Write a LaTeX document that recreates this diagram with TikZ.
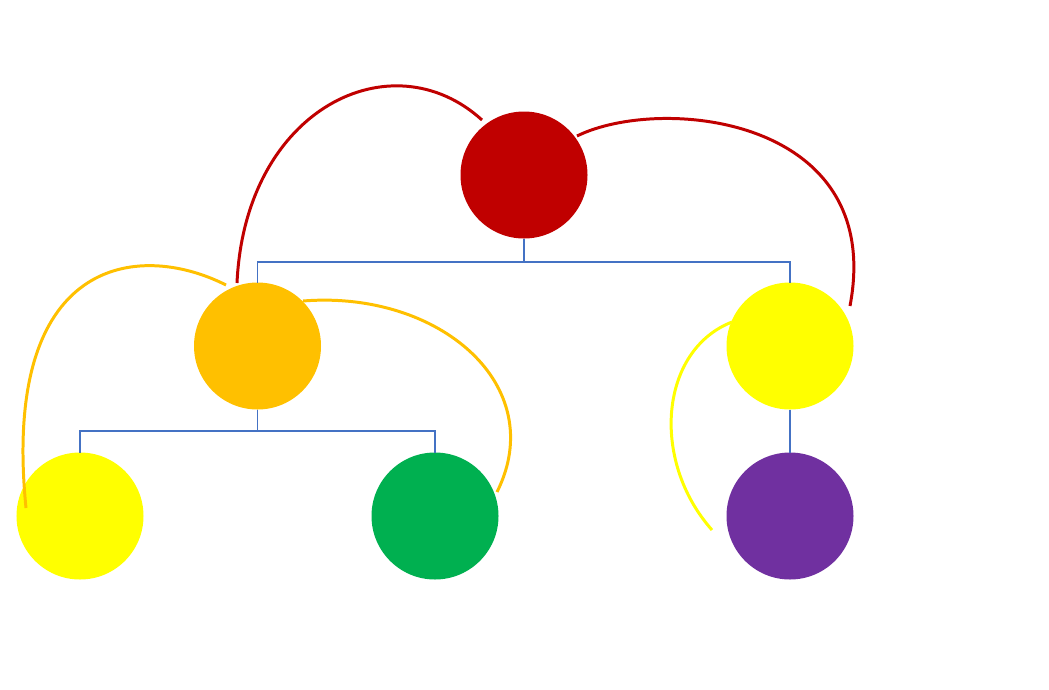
\documentclass[tikz,border=0pt]{standalone}
\usepackage{tikz}

\definecolor{rootred}{HTML}{C00000}
\definecolor{amber}{HTML}{FFC000}
\definecolor{lemon}{HTML}{FFFF00}
\definecolor{leafgreen}{HTML}{00B050}
\definecolor{plum}{HTML}{7030A0}
\definecolor{treeblue}{HTML}{4472C4}

\begin{document}
\begin{tikzpicture}[
    x=0.2mm, y=-0.2mm,
    ball/.style={
        circle,
        minimum size=25.4mm,
        inner sep=0pt,
        outer sep=0pt
    },
    branch/.style={draw=treeblue, line width=0.85pt},
    arc/.style={line width=1.7pt}
]
\useasboundingbox (0,0) rectangle (1049,689);

% Circles
\node[ball,fill=rootred] (root) at (524,175) {};

\node[ball,fill=amber] (left) at (257.5,346) {};
\node[ball,fill=lemon] (right) at (790,346) {};

\node[ball,fill=lemon] (leftleaf) at (80,516) {};
\node[ball,fill=leafgreen] (midleaf) at (435,516) {};
\node[ball,fill=plum] (rightleaf) at (790,516) {};

% Tree lines
\draw[branch] (root.south) -- ++(0,23.5) -| (left.north);
\draw[branch] (root.south) -- ++(0,23.5) -| (right.north);

\draw[branch] (left.south) -- ++(0,21.5) -| (leftleaf.north);
\draw[branch] (left.south) -- ++(0,21.5) -| (midleaf.north);

\draw[branch] (right.south) -- (rightleaf.north);

% Arcs
\draw[arc,rootred] ([shift={(-20.5,-63)}]left.center)
    .. controls +(8,-175) and +(-90,-82) .. ([shift={(-42,-55)}]root.center);
\draw[arc,rootred] ([shift={(53,-39)}]root.center)
    .. controls +(83,-41) and +(36,-190) .. ([shift={(60,-40)}]right.center);

\draw[arc,amber] ([shift={(-54,-8)}]leftleaf.center)
    .. controls +(-25,-250) and +(-89,-45) .. ([shift={(-31.5,-61)}]left.center);
\draw[arc,amber] ([shift={(45.5,-45)}]left.center)
    .. controls +(137,-11) and +(53,-106) .. ([shift={(62,-24)}]midleaf.center);

\draw[arc,lemon] ([shift={(-58,-24)}]right.center)
    .. controls +(-72,28) and +(-62,-70) .. ([shift={(-78,14)}]rightleaf.center);

\end{tikzpicture}
\end{document}
